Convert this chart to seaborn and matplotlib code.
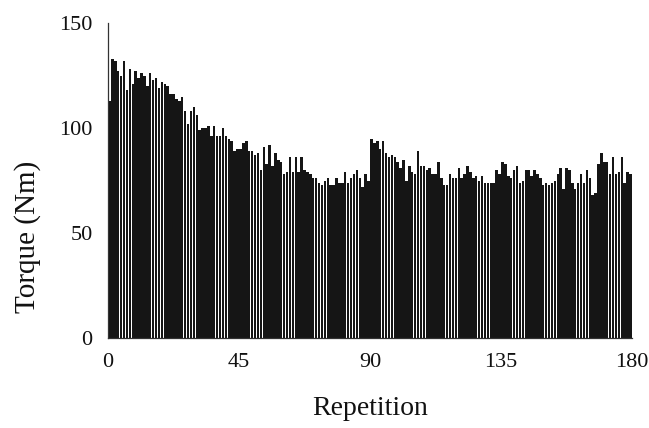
import matplotlib
matplotlib.use("Agg")
import matplotlib.pyplot as plt
import seaborn as sns
import numpy as np
import pandas as pd

# Peak torque per repetition (Nm)
torque_1_45 = [113, 133, 132, 127, 125, 132, 118, 128, 121, 127,
               124, 126, 125, 120, 126, 123, 124, 119, 122, 121,
               120, 116, 116, 114, 113, 115, 108, 102, 108, 110,
               106, 99, 100, 100, 101, 96, 101, 96, 96, 100,
               96, 95, 94, 89, 90]
torque_46_90 = [90, 93, 94, 89, 89, 87, 88, 80, 91, 83,
                92, 82, 88, 85, 84, 78, 79, 86, 79, 86,
                79, 86, 80, 79, 78, 76, 76, 74, 73, 75,
                76, 73, 73, 76, 74, 74, 79, 74, 76, 78,
                80, 76, 72, 78, 75]
torque_91_135 = [95, 93, 94, 90, 94, 88, 86, 87, 86, 84,
                 81, 85, 75, 82, 79, 78, 89, 82, 82, 80,
                 81, 78, 78, 84, 76, 73, 73, 78, 76, 76,
                 81, 76, 78, 82, 79, 76, 77, 75, 77, 74,
                 74, 74, 74, 80, 78]
torque_136_180 = [84, 83, 77, 76, 80, 82, 74, 75, 80, 80,
                  77, 80, 78, 76, 73, 74, 73, 74, 75, 78,
                  81, 71, 81, 80, 74, 71, 74, 78, 74, 80,
                  76, 68, 69, 83, 88, 84, 84, 78, 86, 78,
                  79, 86, 74, 79, 78]

torque = torque_1_45 + torque_46_90 + torque_91_135 + torque_136_180
repetition = list(range(1, len(torque) + 1))

x_ticks = [0, 45, 90, 135, 180]
y_ticks = [0, 50, 100, 150]

df = pd.DataFrame({"pos": np.array(repetition) - 0.5, "torque": torque})

sns.set_style("white")
plt.rcParams["font.family"] = ["Liberation Serif", "DejaVu Serif"]

fig = plt.figure(figsize=(6.49, 4.28), dpi=100)
ax = fig.add_axes([108 / 649, 1 - 338 / 428, (632 - 108) / 649, (338 - 23) / 428])

sns.barplot(data=df, x="pos", y="torque", native_scale=True, width=0.84,
            color="#151515", saturation=1, linewidth=0, ax=ax, errorbar=None)

ax.set_xlim(0, 180)
ax.set_ylim(0, 150)
ax.set_xticks(x_ticks)
ax.set_xticklabels([str(t) for t in x_ticks])
ax.set_yticks(y_ticks)
ax.set_yticklabels([str(t) for t in y_ticks])

for s in ["top", "right"]:
    ax.spines[s].set_visible(False)
for s in ["left", "bottom"]:
    ax.spines[s].set_color("#333333")
    ax.spines[s].set_linewidth(0.9)

ax.tick_params(axis="both", direction="out", length=5, width=0.9, color="#333333",
               labelsize=16, labelcolor="#111111")
ax.tick_params(axis="x", pad=6)
ax.tick_params(axis="y", pad=6)

ax.set_xlabel("Repetition", fontsize=20, color="#111111", labelpad=17)
ax.set_ylabel("Torque (Nm)", fontsize=21, color="#111111")
ax.yaxis.set_label_coords(-0.128, 0.32)

fig.savefig("out.png", dpi=100, facecolor="white")
